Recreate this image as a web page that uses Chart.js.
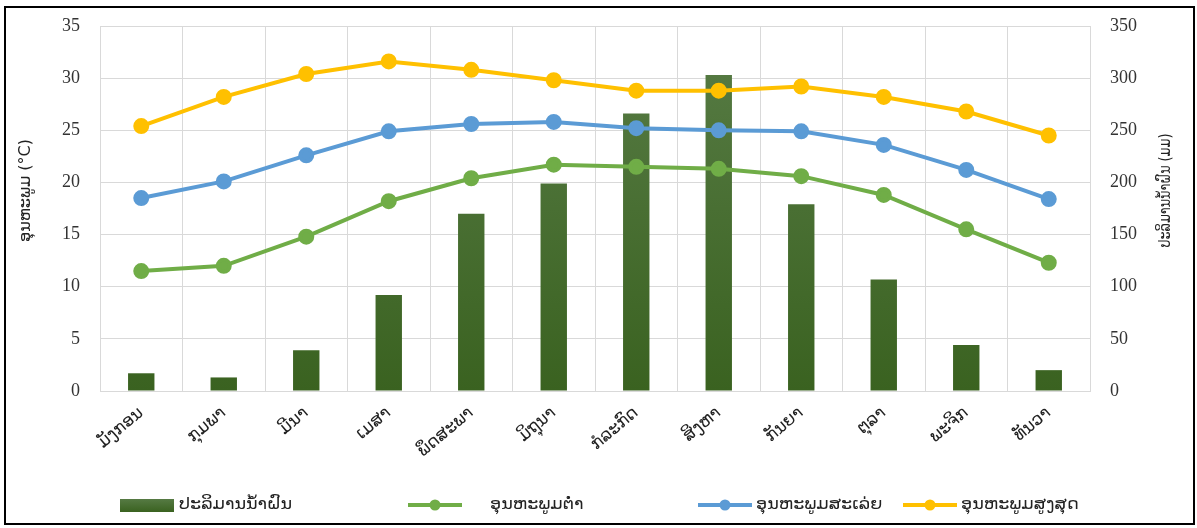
<!DOCTYPE html>
<html>
<head>
<meta charset="utf-8">
<script src="https://cdn.jsdelivr.net/npm/chart.js@4.4.1/dist/chart.umd.min.js"></script>
<style>
  body { margin: 0; background: #fff; }
  #wrap { position: relative; width: 1197px; height: 528px; }
  #frame { position: absolute; left: 4px; top: 6px; width: 1191px; height: 519px; border: 2px solid #000; box-sizing: border-box; pointer-events: none; }
</style>
</head>
<body>
<div id="wrap">
  <canvas id="climate-chart" width="1197" height="528"></canvas>
  <div id="frame"></div>
</div>
<script>
// data
const months = ['ມັງກອນ', 'ກຸມພາ', 'ມີນາ', 'ເມສາ', 'ພຶດສະພາ', 'ມິຖຸນາ', 'ກໍລະກົດ', 'ສິງຫາ', 'ກັນຍາ', 'ຕຸລາ', 'ພະຈິກ', 'ທັນວາ'];
const rainfall = [17, 13, 39, 92, 170, 199, 266, 303, 179, 107, 44, 20];
const minTemp = [11.5, 12.0, 14.8, 18.2, 20.4, 21.7, 21.5, 21.3, 20.6, 18.8, 15.5, 12.3];
const avgTemp = [18.5, 20.1, 22.6, 24.9, 25.6, 25.8, 25.2, 25.0, 24.9, 23.6, 21.2, 18.4];
const maxTemp = [25.4, 28.2, 30.4, 31.6, 30.8, 29.8, 28.8, 28.8, 29.2, 28.2, 26.8, 24.5];
const seriesNames = ['ປະລິມານນ້ຳຝົນ', 'ອຸນຫະພູມຕ່ຳ', 'ອຸນຫະພູມສະເລ່ຍ', 'ອຸນຫະພູມສູງສຸດ'];
const leftTitle = 'ອຸນຫະພູມ (°C)';
const rightTitle = 'ປະລິມານນ້ຳຝົນ (ມມ)';

const laoFont = "'DejaVu Sans', 'Noto Sans', sans-serif";
const numFont = "'Liberation Serif', 'DejaVu Serif', serif";
const barTop = '#587c46', barBottom = '#3a6220';

// titles on both sides, both read bottom to top
const axisTitles = {
    id: 'axisTitles',
    afterDraw(chart) {
        const { ctx, chartArea } = chart;
        const cy = (chartArea.top + chartArea.bottom) / 2 - 18;
        const drawTitle = (text, x, size, stretch) => {
            ctx.save();
            ctx.fillStyle = '#222';
            ctx.font = size + 'px ' + laoFont;
            ctx.textAlign = 'center';
            ctx.textBaseline = 'middle';
            ctx.translate(x, cy);
            ctx.rotate(-Math.PI / 2);
            ctx.scale(stretch, 1);
            ctx.fillText(text, 0, 0);
            ctx.restore();
        };
        drawTitle(leftTitle, 26, 16, 1.0);
        drawTitle(rightTitle, chartArea.right + 76, 15, 0.85);
    }
};

// legend drawn by hand so the items can sit apart like the original
const bottomLegend = {
    id: 'bottomLegend',
    afterDraw(chart) {
        const { ctx } = chart;
        const ds = chart.data.datasets;
        const items = [
            { i: 3, x: 120, gap: 5 },
            { i: 2, x: 408, gap: 28 },
            { i: 1, x: 698, gap: 4 },
            { i: 0, x: 903, gap: 4 }
        ];
        const y = 505;
        ctx.save();
        items.forEach((it, k) => {
            const d = ds[it.i];
            if (k === 0) {
                const g = ctx.createLinearGradient(0, y - 7, 0, y + 7);
                g.addColorStop(0, barTop);
                g.addColorStop(1, barBottom);
                ctx.fillStyle = g;
                ctx.fillRect(it.x, y - 6, 54, 13);
            } else {
                ctx.strokeStyle = d.borderColor;
                ctx.lineWidth = 4;
                ctx.beginPath(); ctx.moveTo(it.x, y); ctx.lineTo(it.x + 54, y); ctx.stroke();
                ctx.fillStyle = d.borderColor;
                ctx.beginPath(); ctx.arc(it.x + 27, y, 5.5, 0, Math.PI * 2); ctx.fill();
            }
            ctx.save();
            ctx.fillStyle = '#222';
            ctx.font = '16px ' + laoFont;
            ctx.textBaseline = 'middle';
            ctx.translate(it.x + 54 + it.gap, y);
            ctx.scale(1.1, 1);
            ctx.fillText(d.label, 0, 0);
            ctx.restore();
        });
        ctx.restore();
    }
};

// the y axes add their tick padding above the plot; drop it so the layout padding decides the top
function fitSide(width) {
    return function(scale) {
        scale.width = width;
        scale.paddingTop = 0;
        scale.paddingBottom = 0;
    };
}

const ctx = document.getElementById('climate-chart').getContext('2d');
new Chart(ctx, {
    data: {
        labels: months,
        datasets: [
            {
                type: 'line', label: seriesNames[3], data: maxTemp, yAxisID: 'y', order: 1,
                borderColor: '#ffc000', backgroundColor: '#ffc000', borderWidth: 4,
                pointRadius: 6, pointHoverRadius: 6, tension: 0
            },
            {
                type: 'line', label: seriesNames[2], data: avgTemp, yAxisID: 'y', order: 2,
                borderColor: '#5b9bd5', backgroundColor: '#5b9bd5', borderWidth: 4,
                pointRadius: 6, pointHoverRadius: 6, tension: 0
            },
            {
                type: 'line', label: seriesNames[1], data: minTemp, yAxisID: 'y', order: 3,
                borderColor: '#70ad47', backgroundColor: '#70ad47', borderWidth: 4,
                pointRadius: 6, pointHoverRadius: 6, tension: 0
            },
            {
                type: 'bar', label: seriesNames[0], data: rainfall, yAxisID: 'y2', order: 4,
                borderColor: barBottom,
                backgroundColor: function(context) {
                    const area = context.chart.chartArea;
                    if (!area) return barBottom;
                    const grad = context.chart.ctx.createLinearGradient(0, area.top, 0, area.bottom);
                    grad.addColorStop(0, barTop);
                    grad.addColorStop(1, barBottom);
                    return grad;
                },
                categoryPercentage: 1, barPercentage: 0.32
            }
        ]
    },
    options: {
        responsive: false,
        animation: false,
        layout: { padding: { top: 26, bottom: 57, left: 0, right: 0 } },
        plugins: {
            tooltip: { enabled: false },
            legend: { display: false }
        },
        scales: {
            x: {
                grid: { color: '#d9d9d9', offset: true, drawTicks: false },
                border: { color: '#d9d9d9' },
                ticks: {
                    color: '#222', padding: 12, maxRotation: 40, minRotation: 40,
                    font: { family: laoFont, size: 17 }
                },
                afterFit(scale) { scale.height = 80; }
            },
            y: {
                position: 'left', min: 0, max: 35,
                grid: { color: '#d9d9d9', drawTicks: false },
                border: { display: false },
                ticks: { stepSize: 5, color: '#333', padding: 20, font: { family: numFont, size: 18 } },
                afterFit: fitSide(100)
            },
            y2: {
                position: 'right', min: 0, max: 350,
                grid: { drawOnChartArea: false, drawTicks: false },
                border: { display: false },
                ticks: { stepSize: 50, color: '#333', padding: 20, font: { family: numFont, size: 18 } },
                afterFit: fitSide(107)
            }
        }
    },
    plugins: [axisTitles, bottomLegend]
});
</script>
</body>
</html>
